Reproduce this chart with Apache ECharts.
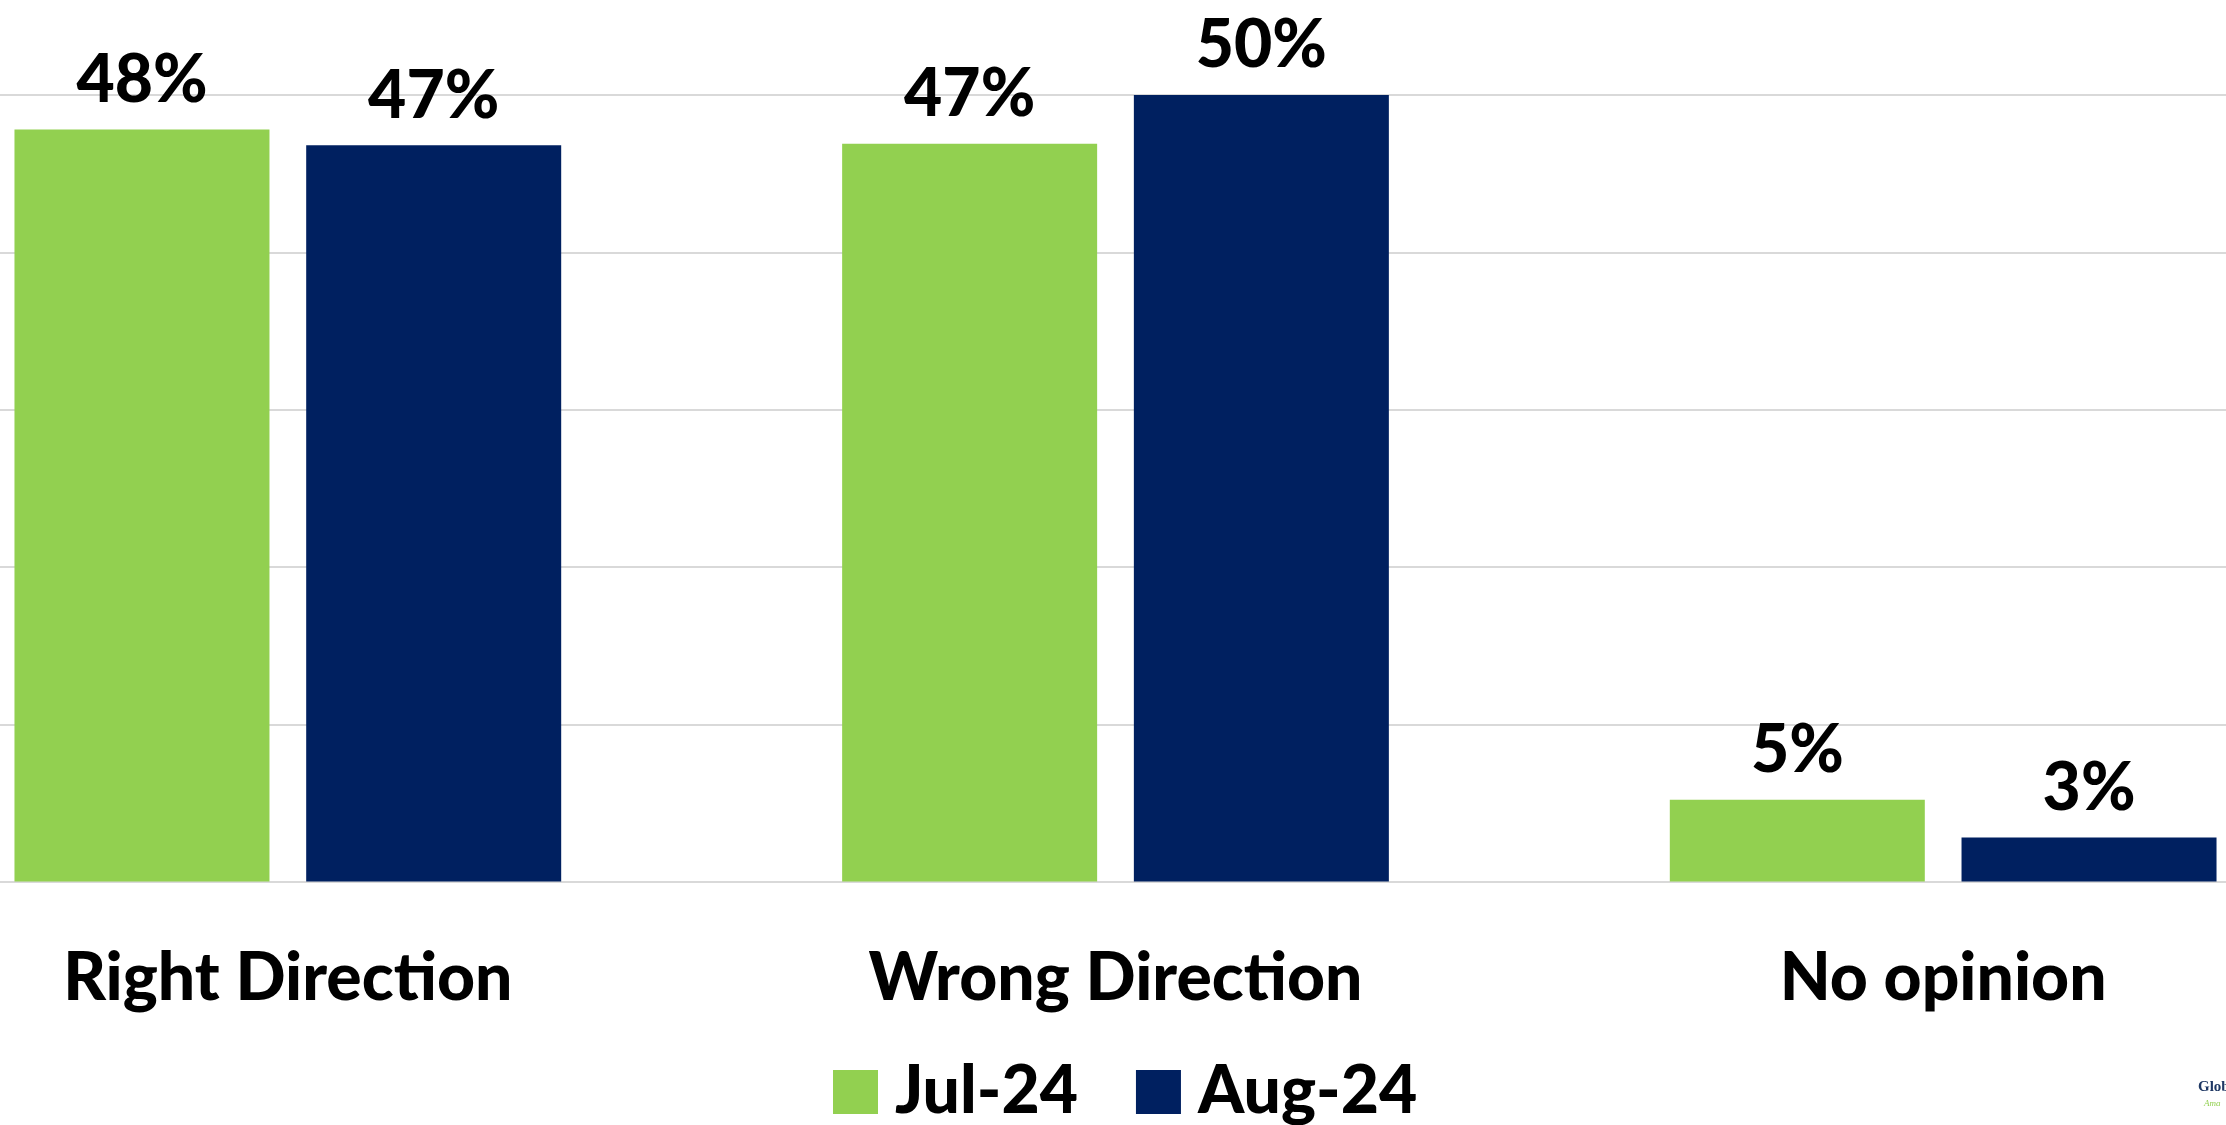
<!DOCTYPE html>
<html>
<head>
<meta charset="utf-8">
<script src="https://cdn.jsdelivr.net/npm/echarts@6/dist/echarts.min.js"></script>
<style>
html,body{margin:0;padding:0;background:#fff;overflow:hidden;width:2226px;height:1125px;position:relative;}
#chart{position:absolute;left:-126px;top:0;width:2483px;height:1125px;}
</style>
</head>
<body>
<div id="chart"></div>
<script>
const categories = ['Right Direction', 'Wrong Direction', 'No opinion'];
const seriesNames = ['Jul-24', 'Aug-24'];
const jul24 = [47.8, 46.9, 5.2];
const aug24 = [46.8, 50.3, 2.8];
const colors = ['#92D050', '#002060'];
const FONT = 'Lato';
const OFFSET = 126;

const chart = echarts.init(document.getElementById('chart'), null, {renderer: 'canvas'});
const labelStyle = {
  show: true,
  position: 'top',
  distance: 16,
  color: '#000',
  fontFamily: FONT,
  fontWeight: 900,
  fontSize: 66,
  formatter: p => Math.round(p.value) + '%'
};
chart.setOption({
  animation: false,
  backgroundColor: '#fff',
  grid: {left: 0, right: 0, top: 95, bottom: 243.4, containLabel: false},
  legend: {
    left: 828 + OFFSET,
    top: 1054,
    itemWidth: 45,
    itemHeight: 44,
    itemGap: 58,
    icon: 'rect',
    textStyle: {color: '#000', fontFamily: FONT, fontWeight: 900, fontSize: 66, padding: [0, 0, 0, 12]},
    data: seriesNames
  },
  xAxis: {
    type: 'category',
    data: categories,
    axisLine: {lineStyle: {color: '#d9d9d9', width: 2}},
    axisTick: {show: false},
    axisLabel: {color: '#000', fontFamily: FONT, fontWeight: 900, fontSize: 66, margin: 64}
  },
  yAxis: {
    type: 'value',
    min: 0, max: 50, interval: 10,
    axisLabel: {show: false},
    axisLine: {show: false},
    axisTick: {show: false},
    splitLine: {lineStyle: {color: '#d9d9d9', width: 2}}
  },
  series: [
    {name: seriesNames[0], type: 'bar', data: jul24, barWidth: 255, barGap: '14.4%', itemStyle: {color: colors[0]}, label: labelStyle},
    {name: seriesNames[1], type: 'bar', data: aug24, barWidth: 255, barGap: '14.4%', itemStyle: {color: colors[1]}, label: labelStyle}
  ],
  graphic: [
    {type: 'text', left: 2198 + OFFSET, top: 1080, style: {text: 'Global', fill: '#1f3864', font: 'bold 15px "Liberation Serif"'}},
    {type: 'text', left: 2204 + OFFSET, top: 1099, style: {text: 'Ama', fill: '#92D050', font: 'italic 9px "Liberation Serif"'}}
  ]
});
</script>
</body>
</html>
